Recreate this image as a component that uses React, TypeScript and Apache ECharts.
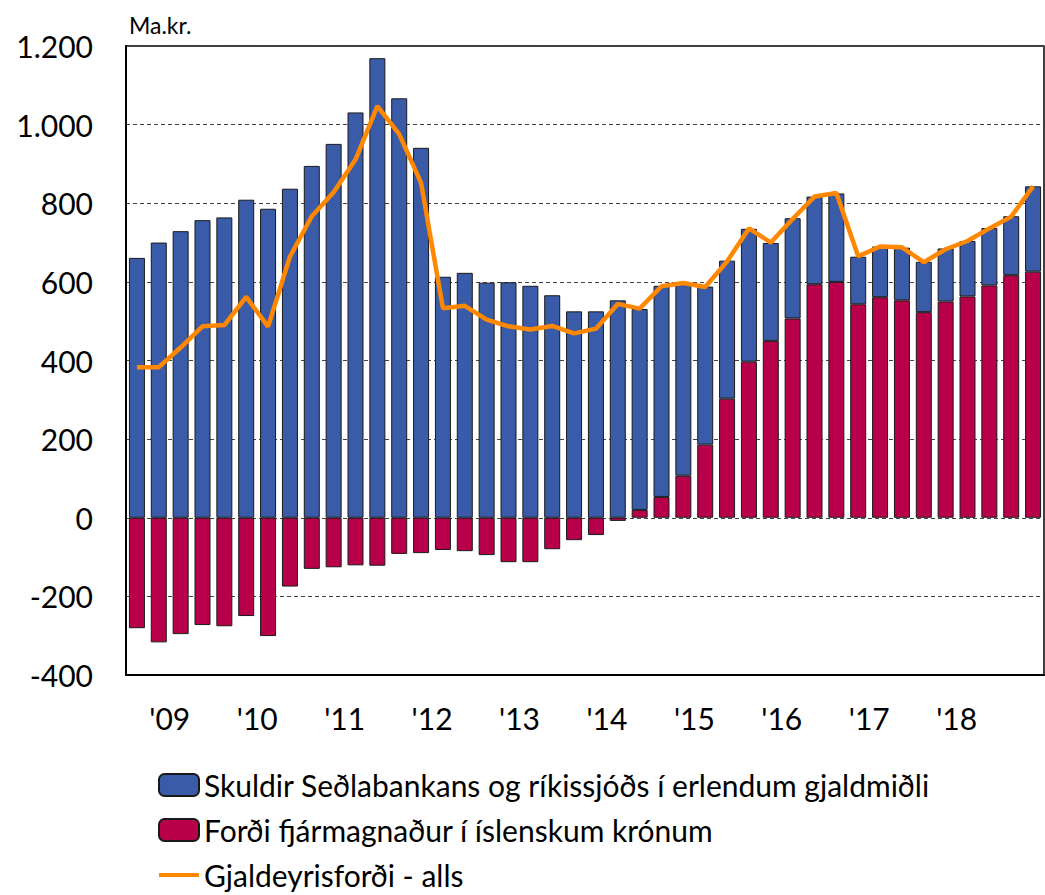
import React, { useEffect, useRef } from "react";
import * as echarts from "echarts";

const quarters = [
  "09Q1", "09Q2", "09Q3", "09Q4",
  "10Q1", "10Q2", "10Q3", "10Q4",
  "11Q1", "11Q2", "11Q3", "11Q4",
  "12Q1", "12Q2", "12Q3", "12Q4",
  "13Q1", "13Q2", "13Q3", "13Q4",
  "14Q1", "14Q2", "14Q3", "14Q4",
  "15Q1", "15Q2", "15Q3", "15Q4",
  "16Q1", "16Q2", "16Q3", "16Q4",
  "17Q1", "17Q2", "17Q3", "17Q4",
  "18Q1", "18Q2", "18Q3", "18Q4",
  "19Q1", "19Q2",
];

// Skuldir Seðlabankans og ríkissjóðs í erlendum gjaldmiðli
const skuldir = [
  661, 700, 729, 757, 764, 809, 786, 837, 895, 951, 1031, 1169, 1067, 941,
  613, 623, 598, 599, 590, 566, 525, 525, 553, 511, 537, 492, 402, 351,
  338, 249, 255, 223, 225, 121, 129, 134, 128, 135, 141, 146, 150, 217,
];

// Forði fjármagnaður í íslenskum krónum
const krona = [
  -281, -317, -296, -273, -276, -250, -301, -175, -130, -126, -121, -122,
  -92, -90, -82, -85, -95, -113, -113, -80, -57, -44, -8, 20, 53, 107, 186,
  303, 397, 450, 507, 594, 600, 543, 561, 553, 523, 550, 563, 591, 617, 626,
];

// Gjaldeyrisforði - alls
const alls = [
  383, 383, 433, 487, 490, 562, 486, 664, 767, 828, 911, 1047, 976, 852,
  533, 539, 504, 487, 479, 488, 469, 481, 544, 532, 589, 597, 587, 652,
  736, 700, 760, 817, 826, 665, 690, 688, 650, 683, 704, 736, 766, 843,
];

const yTicks = { min: -400, max: 1200, interval: 200 };

const NAME_BLUE = "Skuldir Seðlabankans og ríkissjóðs í erlendum gjaldmiðli";
const NAME_RED = "Forði fjármagnaður í íslenskum krónum";
const NAME_LINE = "Gjaldeyrisforði - alls";

const FONT = "Lato";
const ORANGE = "#FF8800";

export default function App() {
  const ref = useRef<HTMLDivElement>(null);

  useEffect(() => {
    if (!ref.current) return;
    const chart = echarts.init(ref.current, null, { renderer: "svg" });
    chart.setOption({
      animation: false,
      backgroundColor: "#fff",
      textStyle: { fontFamily: FONT, color: "#000" },
      title: {
        text: "Ma.kr.",
        left: 129,
        top: 13,
        padding: 0,
        textStyle: { fontFamily: FONT, fontSize: 23, fontWeight: "normal", color: "#000" },
      },
      grid: {
        left: 126,
        right: 1,
        top: 46,
        bottom: 220,
        show: true,
        borderColor: "#000",
        borderWidth: 1.5,
      },
      legend: {
        orient: "vertical",
        left: 158,
        top: 770,
        height: 200,
        padding: 0,
        itemWidth: 40,
        itemHeight: 22,
        itemGap: 15,
        data: [
          { name: NAME_BLUE },
          { name: NAME_RED },
          {
            name: NAME_LINE,
            icon: "path://M0,0 L40,0 L40,4 L0,4 Z",
            itemStyle: { color: ORANGE, borderWidth: 0 },
          },
        ],
        textStyle: { fontFamily: FONT, fontSize: 30, lineHeight: 29, color: "#000" },
      },
      xAxis: {
        type: "category",
        data: quarters,
        boundaryGap: true,
        axisLine: { onZero: false, lineStyle: { color: "#000", width: 2 } },
        axisTick: {
          length: 8,
          interval: (i: number) => i % 4 === 0,
          lineStyle: { color: "#000", width: 1.5 },
        },
        axisLabel: {
          interval: (i: number) => i % 4 === 1 && i < 40,
          formatter: (v: string) => "'" + v.slice(0, 2),
          fontFamily: FONT,
          fontSize: 30,
          color: "#000",
          margin: 28,
          padding: [0, 0, 0, 22],
        },
        splitLine: { show: false },
      },
      yAxis: {
        type: "value",
        min: yTicks.min,
        max: yTicks.max,
        interval: yTicks.interval,
        axisLine: { show: true, lineStyle: { color: "#000", width: 2 } },
        axisTick: { show: false },
        axisLabel: {
          margin: 33,
          fontFamily: FONT,
          fontSize: 30,
          color: "#000",
          formatter: (v: number) => {
            const s = Math.abs(v).toString().replace(/\B(?=(\d{3})+(?!\d))/g, ".");
            return (v < 0 ? "-" : "") + s;
          },
        },
        splitLine: {
          show: true,
          lineStyle: { color: "#444", width: 1, type: [4, 3] },
        },
      },
      series: [
        {
          name: NAME_RED,
          type: "bar",
          stack: "total",
          data: krona,
          barWidth: 16,
          itemStyle: { color: "#B8004A", borderColor: "#1a1a1a", borderWidth: 1 },
        },
        {
          name: NAME_BLUE,
          type: "bar",
          stack: "total",
          data: skuldir,
          barWidth: 16,
          itemStyle: { color: "#3A5BA7", borderColor: "#1a1a1a", borderWidth: 1 },
        },
        {
          name: NAME_LINE,
          type: "line",
          data: alls,
          symbol: "none",
          z: 5,
          lineStyle: { color: ORANGE, width: 4.5 },
          itemStyle: { color: ORANGE },
        },
      ],
    });
    return () => chart.dispose();
  }, []);

  return (
    <div
      ref={ref}
      style={{ position: "absolute", left: 0, top: 0, width: 1045, height: 895 }}
    />
  );
}
